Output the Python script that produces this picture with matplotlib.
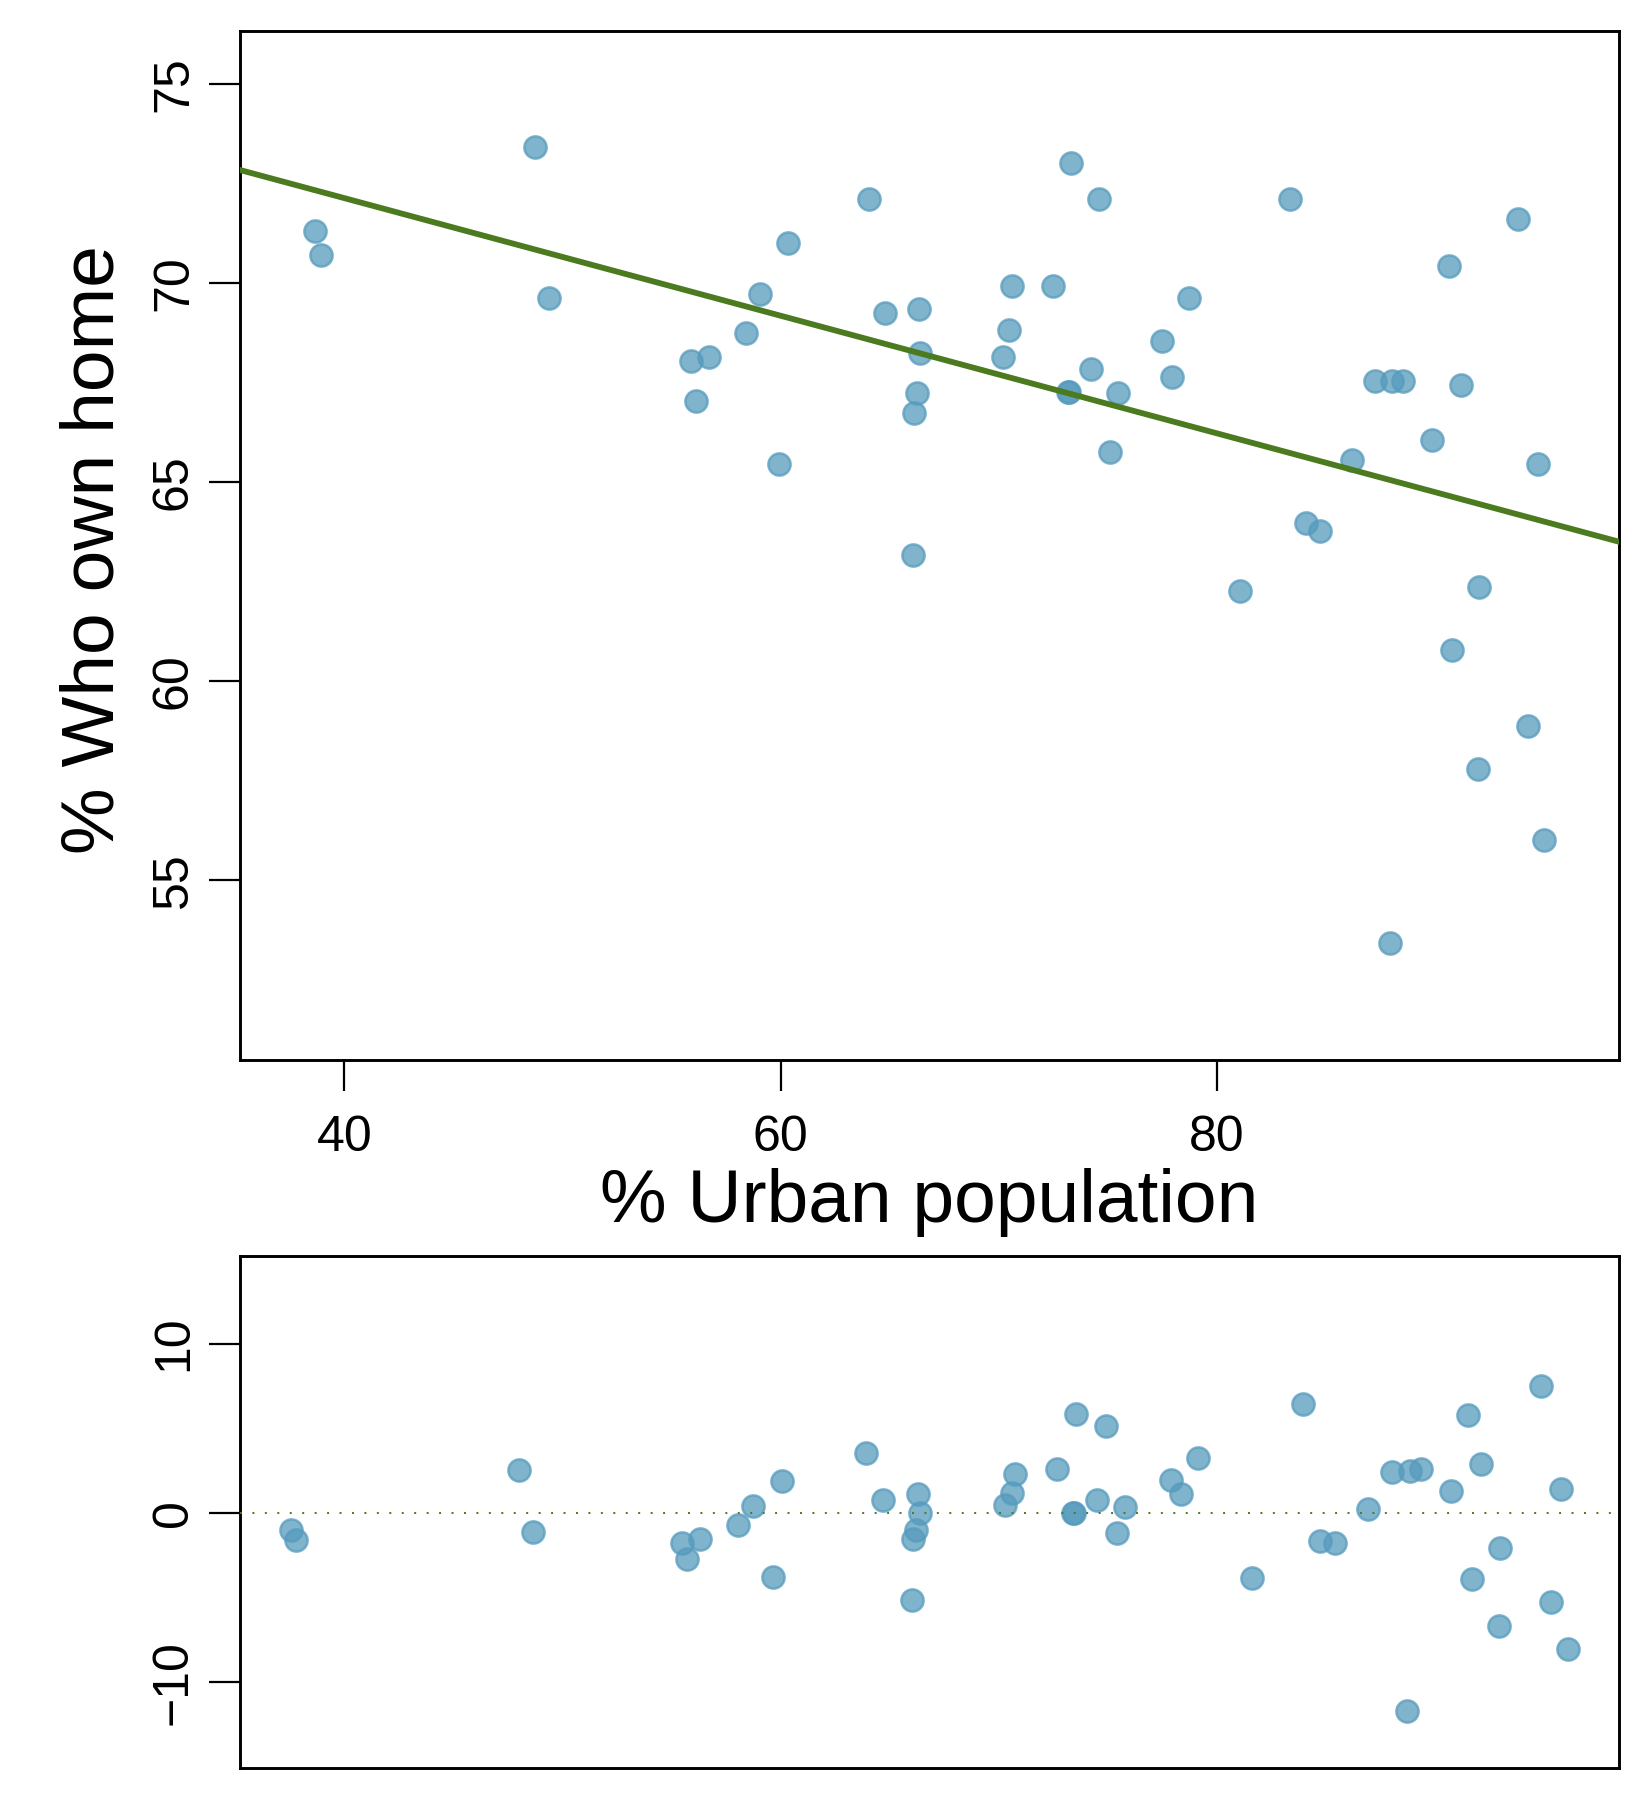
import matplotlib
matplotlib.use("Agg")
import matplotlib.pyplot as plt

# ---- data ----
urban = [38.66, 38.91, 48.74, 49.36, 55.90, 56.14, 56.72, 58.40, 59.05, 59.92,
         60.32, 64.05, 64.78, 66.05, 66.10, 66.26, 66.34, 66.40, 70.17, 70.47,
         70.60, 72.47, 73.18, 73.20, 73.29, 74.23, 74.60, 75.10, 75.48, 77.48,
         77.95, 78.70, 81.06, 83.33, 84.06, 84.72, 86.18, 87.22, 87.91, 88.02,
         88.53, 89.85, 90.61, 90.76, 91.18, 91.96, 91.99, 93.80, 94.23, 94.71,
         95.00]
homeown = [71.32, 70.72, 73.41, 69.63, 68.04, 67.04, 68.14, 68.74, 69.73, 65.45,
           71.02, 72.12, 69.24, 63.16, 66.74, 67.25, 69.34, 68.25, 68.14, 68.83,
           69.93, 69.94, 67.26, 67.26, 73.02, 67.85, 72.12, 65.75, 67.25, 68.54,
           67.64, 69.63, 62.27, 72.12, 63.97, 63.77, 65.56, 67.55, 53.42, 67.55,
           67.55, 66.06, 70.43, 60.78, 67.44, 57.80, 62.37, 71.62, 58.88, 65.45,
           56.00]
residual = [-1.02, -1.59, 2.56, -1.14, -1.75, -2.72, -1.53, -0.71, 0.41, -3.76,
            1.89, 3.56, 0.77, -5.15, -1.55, -1.02, 1.10, 0.02, 0.45, 1.20,
            2.32, 2.60, 0.02, 0.02, 5.83, 0.77, 5.12, -1.20, 0.37, 1.95,
            1.12, 3.23, -3.82, 6.42, -1.65, -1.75, 0.26, 2.40, -11.71, 2.50,
            2.58, 1.30, 5.80, -3.88, 2.89, -6.69, -2.09, 7.48, -5.25, 1.42,
            -8.05]
fit_intercept = 78.05
fit_slope = -0.1478

x_ticks_top = [40, 60, 80]
y_ticks_top = [55, 60, 65, 70, 75]
y_ticks_res = [-10, 0, 10]
xlabel_text = "% Urban population"
ylabel_text = "% Who own home"

# ---- style ----
plt.rcParams['font.family'] = ['Liberation Sans', 'DejaVu Sans']
pt_col = '#569BBD'
line_col = '#4C7A1E'
W, H = 1650, 1800

fig = plt.figure(figsize=(W / 100, H / 100), dpi=100)


def rect(x0, y0, x1, y1):
    return [x0 / W, 1 - y1 / H, (x1 - x0) / W, (y1 - y0) / H]


ax1 = fig.add_axes(rect(240, 30.5, 1619, 1060))
ax2 = fig.add_axes(rect(240, 1256, 1619, 1768))

for ax in (ax1, ax2):
    for sp in ax.spines.values():
        sp.set_linewidth(2.1)
        sp.set_color('black')
    ax.tick_params(axis='both', direction='out', length=22.3, width=1.6,
                   labelsize=36, color='black')
    ax.tick_params(axis='x', pad=17.3)
    ax.tick_params(axis='y', pad=8.7)

# top panel
ax1.scatter(urban, homeown, s=16 ** 2, facecolor=pt_col, edgecolor=pt_col,
            alpha=0.75, linewidths=1.8, zorder=2)
ax1.axline((0, fit_intercept), slope=fit_slope, color=line_col, lw=4.2, zorder=3)
ax1.set_xlim(35.22, 98.42)
ax1.set_ylim(50.48, 76.35)
ax1.set_xticks(x_ticks_top)
ax1.set_xticklabels([str(v) for v in x_ticks_top])
ax1.set_yticks(y_ticks_top)
ax1.set_yticklabels([str(v) for v in y_ticks_top])
plt.setp(ax1.get_yticklabels(), rotation=90, va='center')

ax1.set_xlabel(xlabel_text, fontsize=54, va='baseline')
ax1.xaxis.set_label_coords(0.5, (H - 1222 - (H - 1060)) / (1060 - 30.5))
ax1.set_ylabel(ylabel_text, fontsize=54, rotation=90)
ax1.yaxis.label.set_rotation_mode('anchor')
ax1.yaxis.label.set_ha('center')
ax1.yaxis.label.set_va('baseline')
ax1.yaxis.set_label_coords((114 - 240) / (1619 - 240), (1060 - 550) / (1060 - 30.5))

# residual panel
ax2.scatter(urban, residual, s=16 ** 2, facecolor=pt_col, edgecolor=pt_col,
            alpha=0.75, linewidths=1.8, zorder=2)
ax2.axhline(0, color=line_col, lw=1.4, dashes=(1, 5.4), zorder=3)
ax2.set_xlim(36.42, 97.25)
ax2.set_ylim(-15.05, 15.17)
ax2.set_xticks([])
ax2.set_yticks(y_ticks_res)
ax2.set_yticklabels(["\u2212" + str(-v) if v < 0 else str(v) for v in y_ticks_res])
plt.setp(ax2.get_yticklabels(), rotation=90, va='center')

fig.savefig("out.png", dpi=100, facecolor='white')
